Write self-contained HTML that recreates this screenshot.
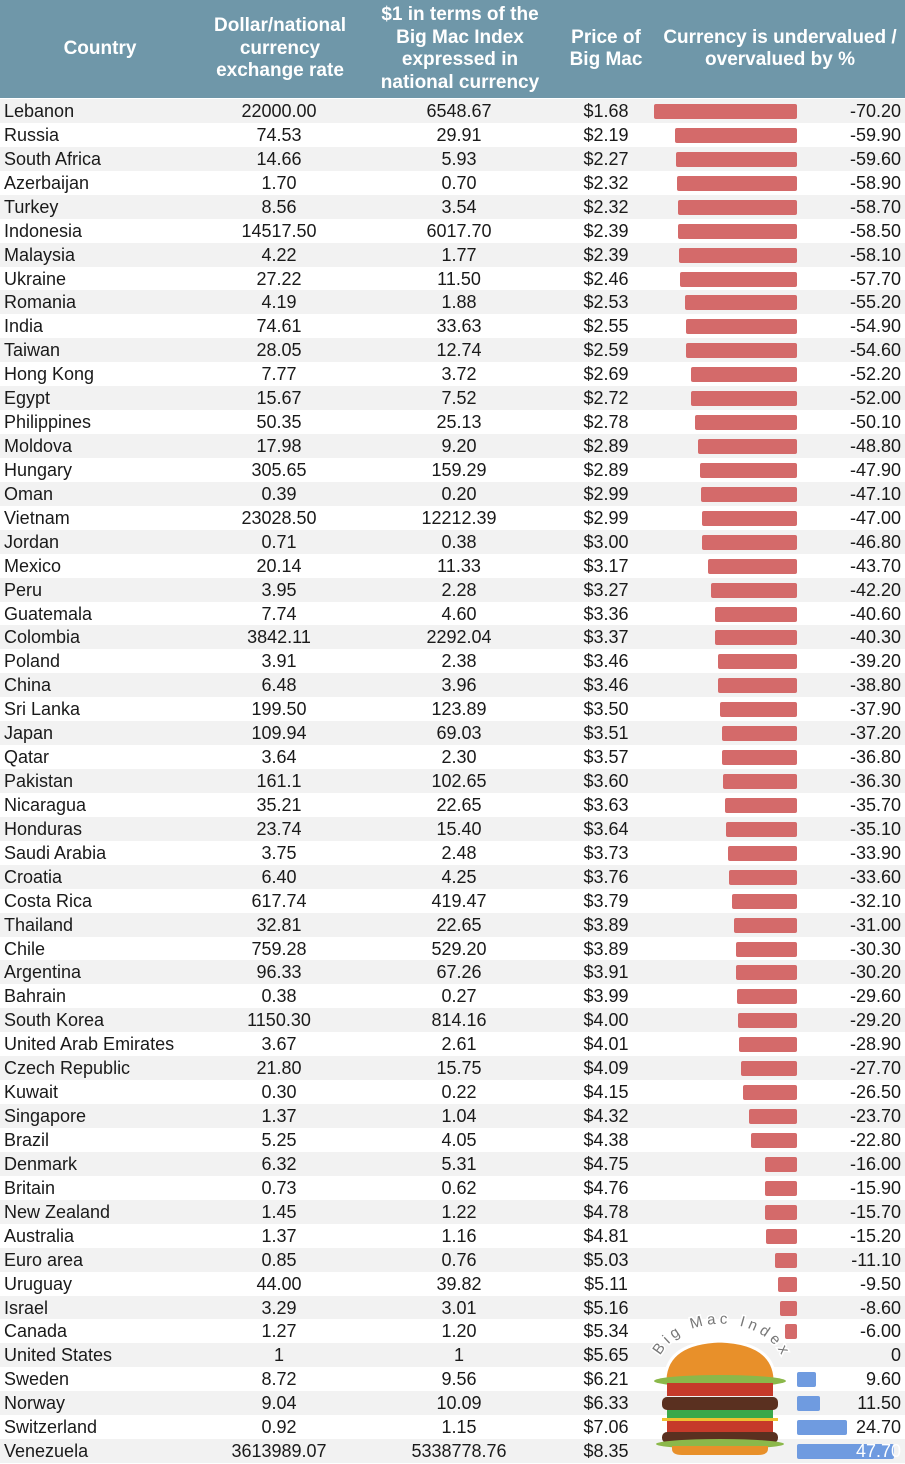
<!DOCTYPE html>
<html><head><meta charset="utf-8">
<style>
body{margin:0;width:905px;height:1464px;overflow:hidden;background:#fff;font-family:"Liberation Sans",Arial,sans-serif;color:#1a1a1a;position:relative}
#hdr{position:absolute;left:0;top:0;width:905px;height:98px;background:#6f97a9;color:#fff;font-weight:bold;font-size:19px;line-height:22.5px}
#hdr div{position:absolute;top:0;height:98px;display:flex;align-items:center;justify-content:center;text-align:center}
.row{position:absolute;left:0;width:905px;height:24px;font-size:18px;line-height:24px}
.row span{position:absolute;top:0;white-space:nowrap}
.bar{position:absolute;height:15px;border-radius:2px}
</style></head><body>
<div id="hdr">
<div style="left:0;width:200px">Country</div>
<div style="left:200px;width:160px">Dollar/national<br>currency<br>exchange rate</div>
<div style="left:370px;width:180px">$1 in terms of the<br>Big Mac Index<br>expressed in<br>national currency</div>
<div style="left:560px;width:92px">Price of<br>Big Mac</div>
<div style="left:655px;width:250px">Currency is undervalued /<br>overvalued by %</div>
</div>
<div id="rows"></div>
<svg id="logo" width="150" height="145" viewBox="0 0 150 145" style="position:absolute;left:645px;top:1313px">
<defs><path id="arc" d="M12,52 A65,50 0 0 1 140,52"/></defs>
<text font-family="Liberation Sans" font-size="15" fill="#777" letter-spacing="4" stroke="#fff" stroke-width="3" paint-order="stroke"><textPath href="#arc" startOffset="6%">Big Mac Index</textPath></text>
<path d="M20,66 Q22,30 75,28 Q128,30 130,66 Z" fill="#e8902a" stroke="#fff" stroke-width="3"/>
<ellipse cx="75" cy="68" rx="66" ry="6" fill="#8bb84a"/>
<rect x="22" y="70" width="106" height="13" fill="#c63a2a"/>
<rect x="17" y="84" width="116" height="13" rx="5" fill="#5a3020"/>
<rect x="22" y="97" width="106" height="8" fill="#3aa84a"/>
<rect x="17" y="105" width="116" height="3" fill="#f0c030"/>
<rect x="22" y="108" width="106" height="11" fill="#c63a2a"/>
<rect x="17" y="119" width="116" height="11" rx="5" fill="#5a3020"/>
<ellipse cx="75" cy="131" rx="64" ry="5" fill="#8bb84a"/>
<path d="M27,133 H123 V136 Q123,142 113,142 H37 Q27,142 27,136 Z" fill="#e8902a"/>
</svg>
<script>
const countries=["Lebanon","Russia","South Africa","Azerbaijan","Turkey","Indonesia","Malaysia","Ukraine","Romania","India","Taiwan","Hong Kong","Egypt","Philippines","Moldova","Hungary","Oman","Vietnam","Jordan","Mexico","Peru","Guatemala","Colombia","Poland","China","Sri Lanka","Japan","Qatar","Pakistan","Nicaragua","Honduras","Saudi Arabia","Croatia","Costa Rica","Thailand","Chile","Argentina","Bahrain","South Korea","United Arab Emirates","Czech Republic","Kuwait","Singapore","Brazil","Denmark","Britain","New Zealand","Australia","Euro area","Uruguay","Israel","Canada","United States","Sweden","Norway","Switzerland","Venezuela"];
const rates=["22000.00","74.53","14.66","1.70","8.56","14517.50","4.22","27.22","4.19","74.61","28.05","7.77","15.67","50.35","17.98","305.65","0.39","23028.50","0.71","20.14","3.95","7.74","3842.11","3.91","6.48","199.50","109.94","3.64","161.1","35.21","23.74","3.75","6.40","617.74","32.81","759.28","96.33","0.38","1150.30","3.67","21.80","0.30","1.37","5.25","6.32","0.73","1.45","1.37","0.85","44.00","3.29","1.27","1","8.72","9.04","0.92","3613989.07"];
const bmi=["6548.67","29.91","5.93","0.70","3.54","6017.70","1.77","11.50","1.88","33.63","12.74","3.72","7.52","25.13","9.20","159.29","0.20","12212.39","0.38","11.33","2.28","4.60","2292.04","2.38","3.96","123.89","69.03","2.30","102.65","22.65","15.40","2.48","4.25","419.47","22.65","529.20","67.26","0.27","814.16","2.61","15.75","0.22","1.04","4.05","5.31","0.62","1.22","1.16","0.76","39.82","3.01","1.20","1","9.56","10.09","1.15","5338778.76"];
const prices=["$1.68","$2.19","$2.27","$2.32","$2.32","$2.39","$2.39","$2.46","$2.53","$2.55","$2.59","$2.69","$2.72","$2.78","$2.89","$2.89","$2.99","$2.99","$3.00","$3.17","$3.27","$3.36","$3.37","$3.46","$3.46","$3.50","$3.51","$3.57","$3.60","$3.63","$3.64","$3.73","$3.76","$3.79","$3.89","$3.89","$3.91","$3.99","$4.00","$4.01","$4.09","$4.15","$4.32","$4.38","$4.75","$4.76","$4.78","$4.81","$5.03","$5.11","$5.16","$5.34","$5.65","$6.21","$6.33","$7.06","$8.35"];
const valuation=[-70.2,-59.9,-59.6,-58.9,-58.7,-58.5,-58.1,-57.7,-55.2,-54.9,-54.6,-52.2,-52.0,-50.1,-48.8,-47.9,-47.1,-47.0,-46.8,-43.7,-42.2,-40.6,-40.3,-39.2,-38.8,-37.9,-37.2,-36.8,-36.3,-35.7,-35.1,-33.9,-33.6,-32.1,-31.0,-30.3,-30.2,-29.6,-29.2,-28.9,-27.7,-26.5,-23.7,-22.8,-16.0,-15.9,-15.7,-15.2,-11.1,-9.5,-8.6,-6.0,0,9.6,11.5,24.7,47.7];
const top0=99, rowH=23.93, zeroX=797.5, pxPer=2.04;
const c=document.getElementById('rows');
countries.forEach((n,i)=>{
 const r=document.createElement('div');r.className='row';
 
 
 r.style.top=(top0+i*rowH)+'px';r.style.background=i%2?'#fff':'#f2f2f2';
 const v=valuation[i];
 const fmt=v===0?'0':v.toFixed(2);
 r.innerHTML=`<span style="left:4px">${n}</span>`+
 `<span style="left:200px;width:158px;text-align:center">${rates[i]}</span>`+
 `<span style="left:370px;width:178px;text-align:center">${bmi[i]}</span>`+
 `<span style="left:560px;width:92px;text-align:center">${prices[i]}</span>`;
 if(v!==0){const b=document.createElement('div');b.className='bar';
  
  
  const w=Math.abs(v)*pxPer;
  b.style.width=w+'px';b.style.top='5px';
  b.style.left=(v<0?zeroX-w:zeroX-1)+'px';
  b.style.background=v<0?'#d46a6a':'#6f9be0';r.appendChild(b);}
 const s=document.createElement('span');
 
 
 s.style.right='4px';s.textContent=fmt;
 if(v>40)s.style.color='#fff';
 r.appendChild(s);
 c.appendChild(r);
});
</script>
</body></html>
